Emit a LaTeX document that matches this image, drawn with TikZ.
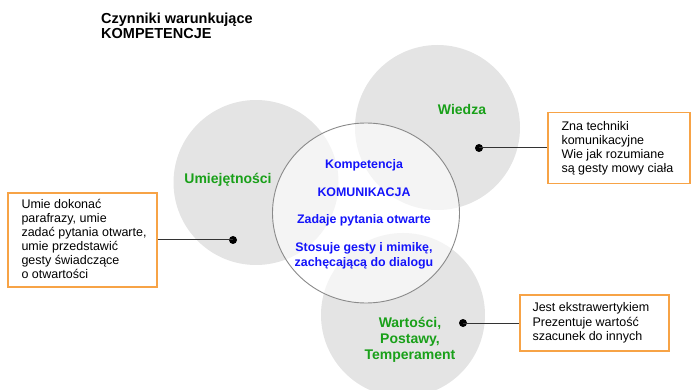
\documentclass[tikz,border=0pt]{standalone}
\usepackage{fontspec}
\setmainfont{Liberation Sans}
\usetikzlibrary{shapes.geometric}

\definecolor{discgrey}{RGB}{228,228,228}
\definecolor{rimgrey}{RGB}{138,138,138}
\definecolor{boxorange}{RGB}{247,163,70}
\definecolor{labelgreen}{RGB}{25,160,25}
\definecolor{coreblue}{RGB}{20,20,250}

\tikzset{
  disc/.style={circle, fill=discgrey, draw=none, inner sep=0pt},
  core/.style={ellipse, fill=white, fill opacity=0.6, draw=rimgrey, line width=0.9pt, inner sep=0pt},
  infobox/.style={rectangle, draw=boxorange, line width=1.4pt, fill=white, inner sep=0pt},
  boxtext/.style={anchor=west, align=left, inner sep=0pt, font=\fontsize{12.5}{14}\selectfont},
  areaname/.style={text=labelgreen, align=center, inner sep=0pt, font=\fontsize{14}{16}\selectfont\bfseries},
  coretext/.style={text=coreblue, anchor=base, inner sep=0pt, font=\fontsize{12.4}{15}\selectfont\bfseries},
  dot/.style={circle, fill=black, inner sep=0pt, minimum size=8pt},
  link/.style={draw=black!80, line width=1pt},
}

\begin{document}
\begin{tikzpicture}[x=1pt, y=-1pt]
\useasboundingbox (0,0) rectangle (691,390);
\clip (0,0) rectangle (691,390);

% title
\node[anchor=north west, align=left, inner sep=0pt,
      font=\fontsize{14.5}{15.3}\selectfont\bfseries] (title) at (101,12.5)
  {Czynniki warunkujące\\KOMPETENCJE};

% the three grey areas
\node[disc, minimum size=165pt] (skills) at (256,182.5) {};
\node[disc, minimum size=165pt] (knowledge) at (437.5,127.5) {};
\node[disc, minimum size=164pt] (values) at (403,315) {};

% central competence disc
\node[core, minimum width=187pt, minimum height=180pt] (competence) at (366,213) {};

% area names
\node[areaname] (skillsname) at (228,180) {Umiejętności};
\node[areaname] (knowledgename) at (462,109) {Wiedza};
\node[areaname] (valuesname) at (410,340) {Wartości,\\Postawy,\\Temperament};

% competence description
\node[coretext] (corea) at (364,168.5) {Kompetencja};
\node[coretext] (coreb) at (364,196.5) {KOMUNIKACJA};
\node[coretext] (corec) at (364,223.5) {Zadaje pytania otwarte};
\node[coretext] (cored) at (364,251.5) {Stosuje gesty i mimikę,};
\node[coretext] (coree) at (364,266.5) {zachęcającą do dialogu};

% description boxes
\node[infobox, minimum width=149pt, minimum height=94pt] (skillsbox) at (82.5,240) {};
\node[boxtext] (skillstext) at ([xshift=14pt,yshift=1pt]skillsbox.west)
  {Umie dokonać\\parafrazy, umie\\zadać pytania otwarte,\\umie przedstawić\\gesty świadczące\\o otwartości};

\node[infobox, minimum width=142pt, minimum height=71pt] (knowledgebox) at (619,148) {};
\node[boxtext] (knowledgetext) at ([xshift=14pt]knowledgebox.west)
  {Zna techniki\\komunikacyjne\\Wie jak rozumiane\\są gesty mowy ciała};

\node[infobox, minimum width=149pt, minimum height=56pt] (valuesbox) at (594.5,323) {};
\node[boxtext, font=\fontsize{12.5}{14.5}\selectfont] (valuestext) at ([xshift=13pt]valuesbox.west)
  {Jest ekstrawertykiem\\Prezentuje wartość\\szacunek do innych};

% connectors
\node[dot] (skillsdot) at (233,240) {};
\node[dot] (knowledgedot) at (479,148) {};
\node[dot] (valuesdot) at (463,323) {};
\draw[link] (skillsbox.east) -- (skillsdot.center);
\draw[link] (knowledgedot.center) -- (knowledgebox.west);
\draw[link] (valuesdot.center) -- (valuesbox.west);
\end{tikzpicture}
\end{document}
